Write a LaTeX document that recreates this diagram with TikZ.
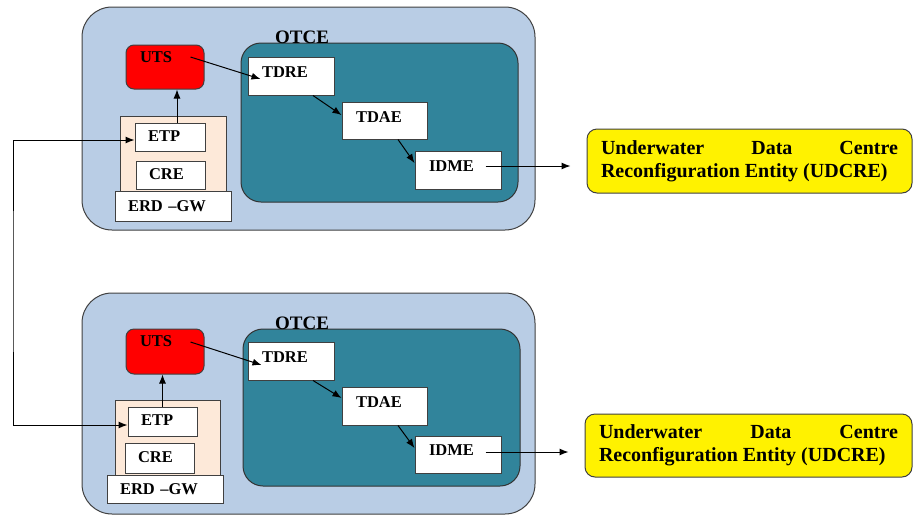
\documentclass[tikz,border=0pt]{standalone}
\usepackage{fontspec}
\setmainfont{Liberation Serif}
\usepackage{xcolor}
\usepackage{tikz}
\usetikzlibrary{arrows.meta}

\definecolor{paleblue}{HTML}{B9CDE5}
\definecolor{tealbox}{HTML}{31849B}
\definecolor{peach}{HTML}{FDE9D9}
\definecolor{edgegray}{HTML}{404040}

\tikzset{
    lbl/.style={font=\fontsize{16.5}{18}\selectfont\bfseries},
    wbox/.style={lbl, draw=edgegray, fill=white, line width=1pt, inner xsep=14pt, inner ysep=0pt, align=left},
    utsbox/.style={wbox, fill=red, rounded corners=8pt},
    udcbox/.style={draw=edgegray, fill=yellow, line width=1pt, rounded corners=10pt, inner xsep=14pt, align=justify, font=\fontsize{20}{23}\selectfont\bfseries},
    conn/.style={-{Latex[length=9pt,width=7pt]}, line width=1pt}
}

\begin{document}
\begin{tikzpicture}[x=1pt, y=-1pt]
    \useasboundingbox (0,0) rectangle (913,515);

    % Khối trên
    \draw[fill=paleblue, draw=edgegray, line width=1pt, rounded corners=30pt] (82,7) rectangle (535,230);
    \draw[fill=tealbox, draw=edgegray!80!black, line width=1pt, rounded corners=20pt] (241,43) rectangle (518,202);
    \draw[fill=peach, draw=edgegray, line width=1pt] (120,116) rectangle (226,192);
    \node[lbl, font=\fontsize{19}{20}\selectfont\bfseries] (otce1) at (302,37) {OTCE};
    \node[utsbox, text width=50pt, minimum height=44pt, text depth=20pt] (uts1) at (165,67) {UTS};
    \node[wbox, text width=58pt, minimum height=38pt, text depth=8pt] (tdre1) at (291,76) {TDRE};
    \node[wbox, text width=57pt, minimum height=37pt, text depth=7pt] (tdae1) at (384.5,120.5) {TDAE};
    \node[wbox, text width=58pt, minimum height=38pt, text depth=8pt] (idme1) at (458,170) {IDME};
    \node[wbox, text width=44pt, inner xsep=13pt, minimum height=28pt, text depth=2pt] (etp1) at (170,137) {ETP};
    \node[wbox, text width=43pt, inner xsep=13pt, minimum height=28pt, text depth=2pt] (cre1) at (170.5,175) {CRE};
    \node[wbox, text width=90pt, inner xsep=13pt, minimum height=30pt] (gw1) at (173,206) {ERD –GW};
    \node[udcbox, text width=297pt, minimum height=64pt] (udc1) at (749.5,161) {Underwater \hfill Data \hfill Centre\\Reconfiguration Entity (UDCRE)};

    % Khối dưới
    \draw[fill=paleblue, draw=edgegray, line width=1pt, rounded corners=30pt] (82,293) rectangle (535,514);
    \draw[fill=tealbox, draw=edgegray!80!black, line width=1pt, rounded corners=20pt] (243,329) rectangle (520,486);
    \draw[fill=peach, draw=edgegray, line width=1pt] (115,400) rectangle (220,475);
    \node[lbl, font=\fontsize{19}{20}\selectfont\bfseries] (otce2) at (302,323) {OTCE};
    \node[utsbox, text width=50pt, minimum height=45pt, text depth=20pt] (uts2) at (165,351.5) {UTS};
    \node[wbox, text width=58pt, minimum height=38pt, text depth=8pt] (tdre2) at (291,361) {TDRE};
    \node[wbox, text width=57pt, minimum height=38pt, text depth=8pt] (tdae2) at (384.5,406) {TDAE};
    \node[wbox, text width=58pt, minimum height=37pt, text depth=8pt] (idme2) at (458,454.5) {IDME};
    \node[wbox, text width=43pt, inner xsep=13pt, minimum height=29pt, text depth=2pt] (etp2) at (162.5,421.5) {ETP};
    \node[wbox, text width=43pt, inner xsep=13pt, minimum height=30pt, text depth=2pt] (cre2) at (159.5,458) {CRE};
    \node[wbox, text width=90pt, inner xsep=13pt, minimum height=28pt] (gw2) at (165,489) {ERD –GW};
    \node[udcbox, text width=299pt, minimum height=63pt] (udc2) at (748.5,445.5) {Underwater \hfill Data \hfill Centre\\Reconfiguration Entity (UDCRE)};

    % Các mũi tên
    \draw[conn] ([xshift=7pt]etp1.north) -- ([xshift=7pt]etp1.north |- uts1.south);
    \draw[conn] ([xshift=-14pt,yshift=10pt]uts1.east) -- ([xshift=13pt,yshift=-3pt]tdre1.west);
    \draw[conn] ([xshift=22pt]tdre1.south) -- ([yshift=5.5pt]tdae1.west);
    \draw[conn] ([xshift=13.5pt]tdae1.south) -- ([yshift=7pt]idme1.west);
    \draw[conn] ([xshift=-16pt,yshift=4pt]idme1.east) -- ([xshift=-16pt,yshift=4pt]idme1.east -| udc1.west);

    \draw[conn] (etp2.north) -- (etp2.north |- uts2.south);
    \draw[conn] ([xshift=-14pt,yshift=9.5pt]uts2.east) -- ([xshift=14pt,yshift=-4pt]tdre2.west);
    \draw[conn] ([xshift=22pt]tdre2.south) -- ([yshift=8pt]tdae2.west);
    \draw[conn] ([xshift=13.5pt]tdae2.south) -- ([yshift=6.5pt]idme2.west);
    \draw[conn] ([xshift=-16pt,yshift=2.5pt]idme2.east) -- ([xshift=-16pt,yshift=2.5pt]idme2.east -| udc2.west);

    % Nối hai ETP
    \coordinate (lft) at (13,280);
    \draw[conn, {Latex[length=9pt,width=7pt]}-{Latex[length=9pt,width=7pt]}] ([yshift=-3pt]etp1.west) -| (lft) |- ([yshift=-3.5pt]etp2.west);

\end{tikzpicture}
\end{document}
